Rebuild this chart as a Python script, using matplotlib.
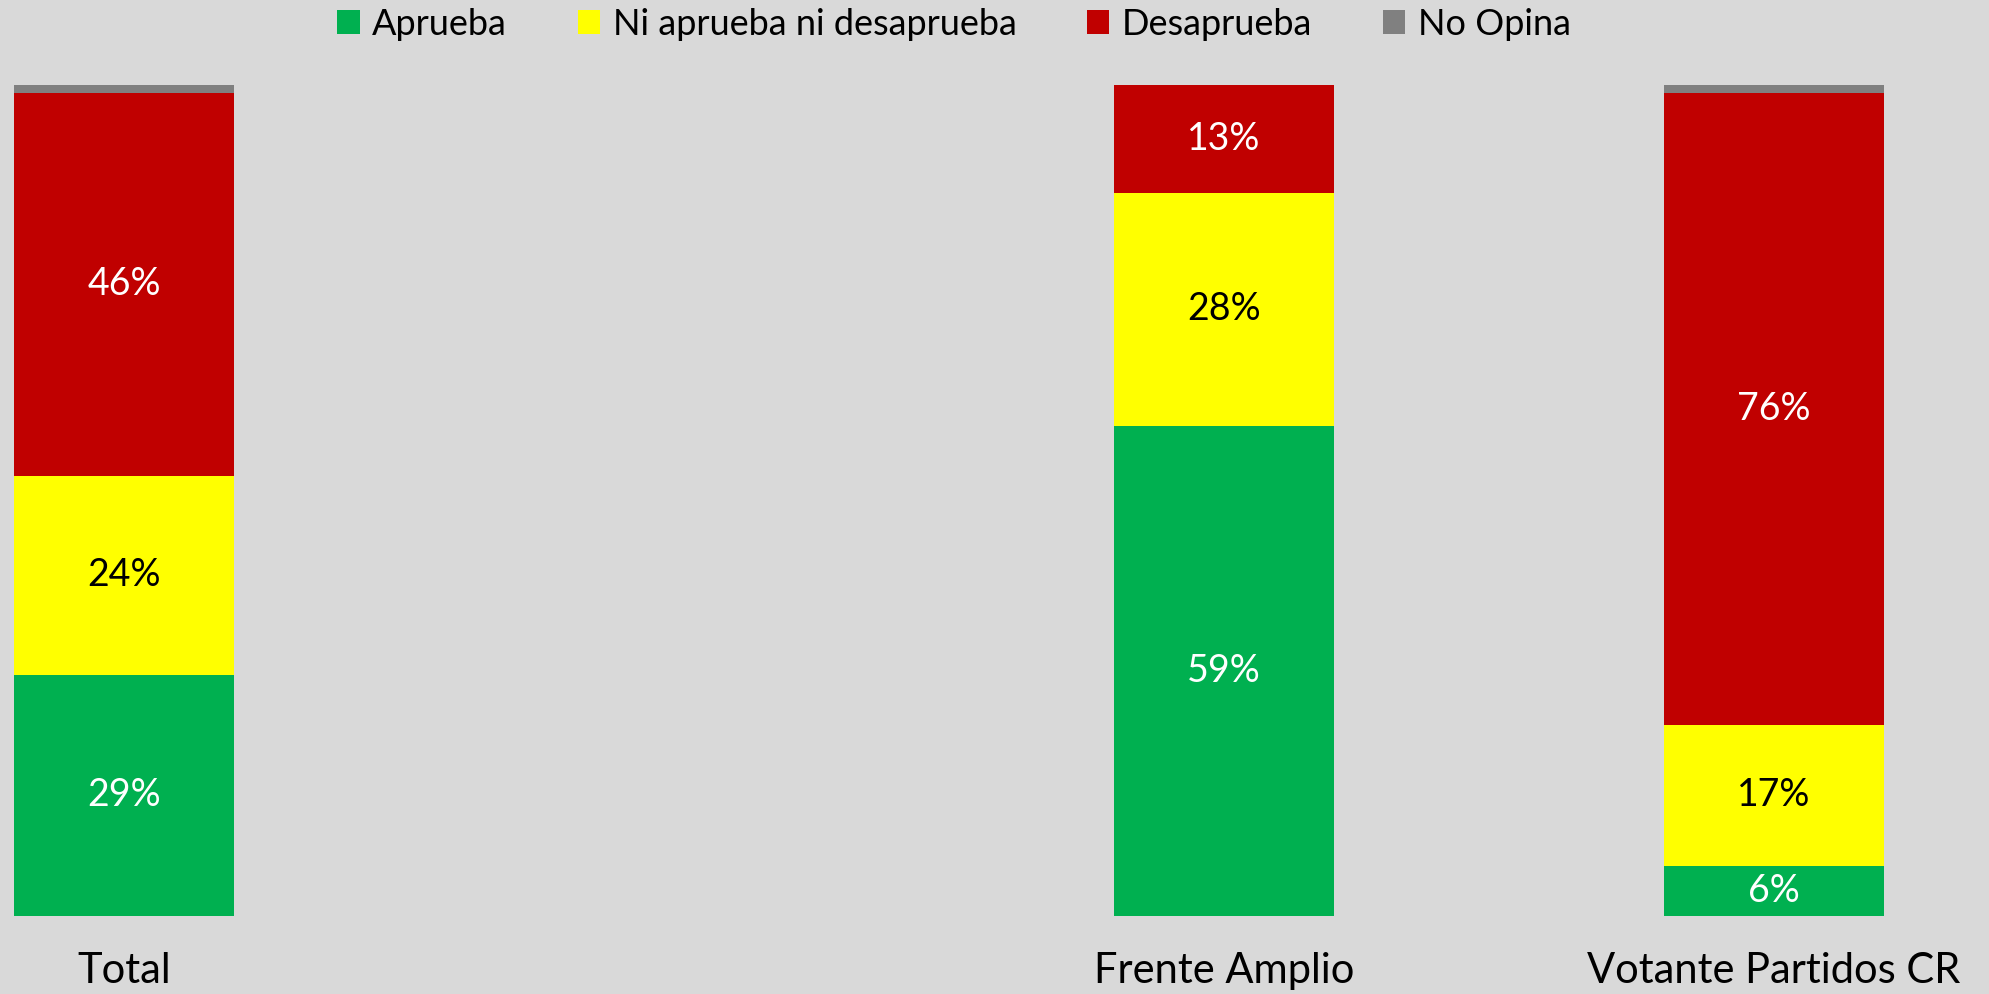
import matplotlib
matplotlib.use('Agg')
import matplotlib.pyplot as plt
from matplotlib.patches import Patch
import numpy as np

plt.rcParams['font.family'] = ['Lato', 'DejaVu Sans']

# data
categories = ['Total', '', 'Frente Amplio', 'Votante Partidos CR']
series = ['Aprueba', 'Ni aprueba ni desaprueba', 'Desaprueba', 'No Opina']
aprueba = [29, 0, 59, 6]
ni_ni = [24, 0, 28, 17]
desaprueba = [46, 0, 13, 76]
no_opina = [1, 0, 0, 1]

colors = ['#00B050', '#FFFF00', '#C00000', '#808080']
text_colors = ['white', 'black', 'white', None]
bg = '#D9D9D9'

fig = plt.figure(figsize=(19.9, 9.94), dpi=100, facecolor=bg)
ax = fig.add_axes([0, 0.0785, 1, 0.836], facecolor=bg)

x = np.arange(len(categories))
bottom = np.zeros(len(categories))
for vals, col, tcol in zip([aprueba, ni_ni, desaprueba, no_opina], colors, text_colors):
    vals = np.array(vals, dtype=float)
    ax.bar(x, vals, width=0.4, bottom=bottom, color=col, linewidth=0)
    if tcol is not None:
        for xi, v, b in zip(x, vals, bottom):
            if v > 0:
                ax.text(xi, b + v / 2, f'{v:.0f}%', ha='center', va='center',
                        color=tcol, fontsize=27)
    bottom += vals

ax.set_ylim(0, 100)
ax.set_xlim(-124 / 550, (1990 - 124) / 550)
ax.set_xticks(x)
ax.set_xticklabels(categories, fontsize=30)
ax.tick_params(axis='x', length=0, pad=26)
ax.set_yticks([])
for s in ax.spines.values():
    s.set_visible(False)

handles = [Patch(facecolor=c, edgecolor='none') for c in colors]
fig.legend(handles, series, loc='upper center', bbox_to_anchor=(0.4794, 1.025), ncol=4,
           frameon=False, fontsize=26, handlelength=0.62, handleheight=0.62,
           handletextpad=0.35, columnspacing=1.95)

fig.savefig('out.png', dpi=100, facecolor=bg)
